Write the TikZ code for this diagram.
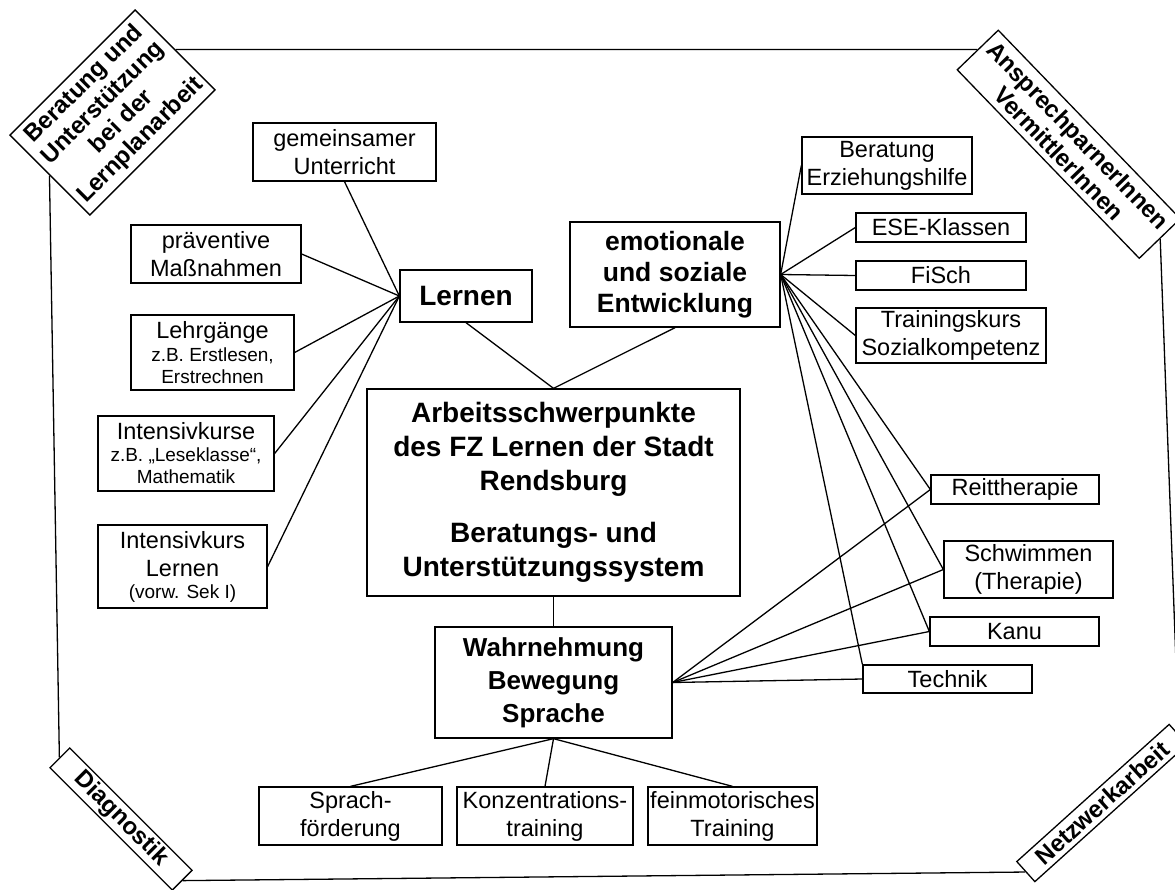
\documentclass[tikz,border=0pt]{standalone}
\usepackage{fontspec}
\setmainfont{Liberation Sans}
\newcommand\nf{\fontsize{23.5}{28}\selectfont}
\newcommand\sm{\fontsize{19}{22}\selectfont}
\tikzset{
  box/.style={draw, line width=1.3pt, inner sep=0pt, align=center, font=\nf},
  bbox/.style={draw, line width=1.3pt, inner sep=0pt, align=center},
  corner/.style={draw, line width=1.3pt, inner sep=0pt, align=center, fill=white,
     font=\fontsize{24}{26.5}\selectfont\bfseries},
  link/.style={line width=1.3pt},
  sz/.style 2 args={minimum width=#1pt, minimum height=#2pt}
}
\begin{document}
\begin{tikzpicture}[x=1pt,y=-1pt]
\useasboundingbox (0,0) rectangle (1175,889);
\fill[white] (0,0) rectangle (1175,889);
% corner boxes
\node[corner, rotate=45, sz={177}{113}] (tl) at (112.5,112.5) {Beratung und\\Unterstützung\\bei der\\Lernplanarbeit};
\node[corner, rotate=-46, sz={262}{57}] (tr) at (1068.75,144.25) {AnsprechparnerInnen\\VermittlerInnen};
\node[corner, rotate=-45, sz={173}{28}] (bl) at (121,819) {Diagnostik};
\node[corner, rotate=42, sz={205}{27}] (br) at (1102,803) {Netzwerkarbeit};
\draw[link] (tl.east) -- (tr.west);
\draw[link] (tr.east) -- (br.east);
\draw[link] (br.west) -- (bl.east);
\draw[link] (bl.west) -- (tl.west);
% left group
\node[box, sz={183}{58}] (gem) at (344.5,152) {gemeinsamer\\Unterricht};
\node[box, sz={170}{58}] (prae) at (216,254) {präventive\\Maßnahmen};
\node[box, sz={163}{75}] (lehr) at (212.5,352.5) {Lehrgänge\\[-5pt]\sm z.B. Erstlesen,\\[-6pt]\sm Erstrechnen};
\node[box, sz={176}{75}] (intk) at (186,453.5) {Intensivkurse\\[-6pt]\sm z.B. „Leseklasse“,\\[-6pt]\sm Mathematik};
\node[box, sz={169}{83}] (intl) at (182.5,566.5) {Intensivkurs\\Lernen\\[-6pt]\sm (vorw. Sek I)};
\node[bbox, sz={132}{52}, font=\fontsize{28}{33}\selectfont\bfseries] (lern) at (466,296) {Lernen};
% emotional
\node[bbox, sz={210}{105}, font=\fontsize{26.5}{31}\selectfont\bfseries] (emo) at (675,274.5) {emotionale\\und soziale\\Entwicklung};
% center
\node[bbox, sz={373}{207}, font=\fontsize{28}{34}\selectfont\bfseries] (ctr) at (553.5,492.5) {Arbeitsschwerpunkte\\des FZ Lernen der Stadt\\Rendsburg\\[18pt]Beratungs- und\\Unterstützungssystem};
\node[bbox, sz={237}{111}, font=\fontsize{26}{33}\selectfont\bfseries] (wahr) at (553.5,682.5) {Wahrnehmung\\Bewegung\\Sprache};
% bottom
\node[box, sz={183}{58}] (spr) at (350.5,816) {Sprach-\\förderung};
\node[box, sz={176}{58}] (konz) at (545,816) {Konzentrations-\\training};
\node[box, sz={169}{58}] (fein) at (732.5,816) {feinmotorisches\\Training};
% right
\node[box, sz={170}{57}] (ber) at (887,165.5) {Beratung\\Erziehungshilfe};
\node[box, sz={170}{29}] (ese) at (941,227.5) {ESE-Klassen};
\node[box, sz={170}{29}] (fisch) at (941,275.5) {FiSch};
\node[box, sz={190}{55}] (train) at (951,335.5) {Trainingskurs\\Sozialkompetenz};
\node[box, sz={168}{29}] (reit) at (1015,489.5) {Reittherapie};
\node[box, sz={169}{57}] (schw) at (1028.5,569.5) {Schwimmen\\(Therapie)};
\node[box, sz={169}{29}] (kanu) at (1014.5,631.5) {Kanu};
\node[box, sz={169}{28}] (tech) at (947.5,679) {Technik};
% connectors
\foreach \t/\a in {gem/south, prae/east, lehr/east, intk/east, intl/east}
  \draw[link] (lern.west) -- (\t.\a);
\draw[link] (lern.south) -- (ctr.north);
\draw[link] (emo.south) -- (ctr.north);
\draw[link] (ctr.south) -- (wahr.north);
\foreach \t in {spr, konz, fein}
  \draw[link] (wahr.south) -- (\t.north);
\foreach \t/\a in {ber/west, ese/west, fisch/west, train/west, reit/west, schw/west, kanu/west, tech/north west}
  \draw[link] (emo.east) -- (\t.\a);
\foreach \t in {reit, schw, kanu, tech}
  \draw[link] (wahr.east) -- (\t.west);
\end{tikzpicture}
\end{document}
